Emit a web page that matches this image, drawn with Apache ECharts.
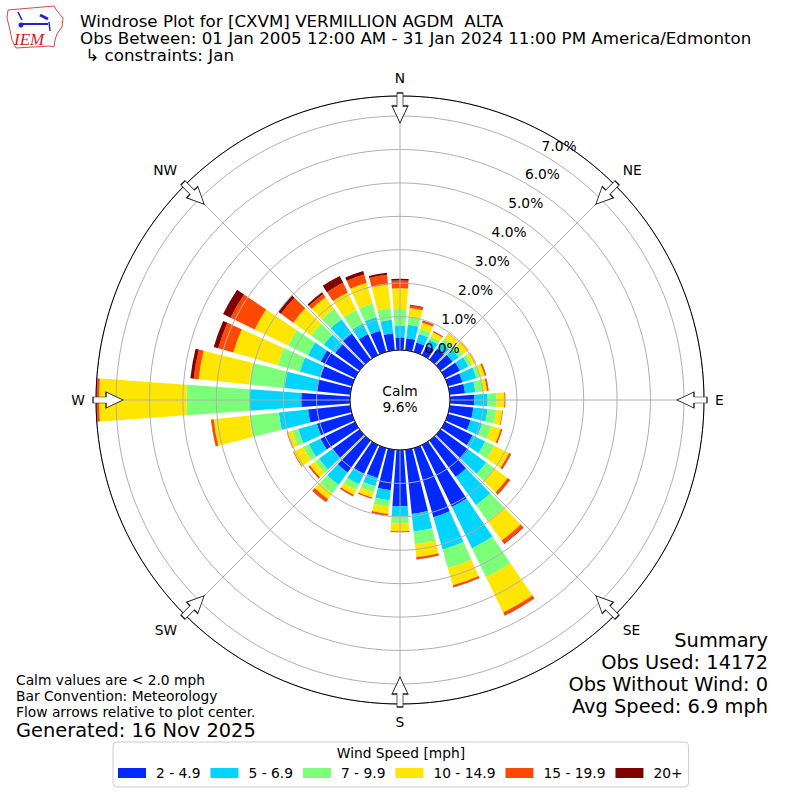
<!DOCTYPE html>
<html>
<head>
<meta charset="utf-8">
<title>Windrose CXVM</title>
<script src="https://cdn.jsdelivr.net/npm/echarts@6.0.0/dist/echarts.min.js"></script>
<style>
html, body { margin: 0; padding: 0; background: #fff; }
#chart { width: 800px; height: 800px; }
</style>
</head>
<body>
<div id="chart"></div>
<script>
// wind directions (degrees the wind blows from), one bar each
const directions = [0, 10, 20, 30, 40, 50, 60, 70, 80, 90, 100, 110,
    120, 130, 140, 150, 160, 170, 180, 190, 200, 210, 220, 230,
    240, 250, 260, 270, 280, 290, 300, 310, 320, 330, 340, 350];

const speedBins = ['2 - 4.9', '5 - 6.9', '7 - 9.9', '10 - 14.9', '15 - 19.9', '20+'];
const binColors = ['#0028ff', '#00d4ff', '#7cff79', '#ffe600', '#ff4800', '#800000'];

// frequency [%] per direction for each speed bin
const speed2to5 = [0.38, 0.36, 0.29, 0.32, 0.40, 0.45, 0.50, 0.45, 0.46, 0.73, 0.71, 0.70,
    0.92, 1.03, 1.35, 2.06, 2.15, 1.93, 1.68, 1.22, 0.93, 0.96, 1.18, 1.00,
    1.15, 1.09, 1.27, 1.46, 1.02, 0.98, 1.14, 0.90, 0.96, 0.70, 0.66, 0.51];
const speed5to7 = [0.35, 0.41, 0.27, 0.20, 0.22, 0.23, 0.28, 0.43, 0.31, 0.40, 0.43, 0.36,
    0.42, 0.66, 1.04, 1.38, 1.01, 0.53, 0.30, 0.30, 0.26, 0.35, 0.46, 0.50,
    0.39, 0.58, 0.88, 1.54, 0.96, 0.64, 0.43, 0.42, 0.53, 0.35, 0.43, 0.41];
const speed7to10 = [0.50, 0.25, 0.16, 0.10, 0.16, 0.16, 0.12, 0.12, 0.23, 0.27, 0.26, 0.29,
    0.30, 0.31, 0.59, 0.96, 0.58, 0.38, 0.22, 0.19, 0.18, 0.19, 0.32, 0.14,
    0.19, 0.19, 0.89, 1.89, 1.06, 0.69, 0.66, 0.47, 0.38, 0.45, 0.42, 0.35];
const speed10to15 = [0.62, 0.25, 0.19, 0.14, 0.18, 0.19, 0.13, 0.14, 0.12, 0.23, 0.18, 0.29,
    0.49, 0.48, 0.71, 1.17, 0.53, 0.39, 0.23, 0.22, 0.17, 0.16, 0.21, 0.19,
    0.31, 0.15, 1.07, 2.62, 1.52, 1.38, 1.11, 0.66, 0.43, 0.58, 0.64, 0.71];
const speed15to20 = [0.23, 0.08, 0.06, 0.03, 0.01, 0.01, 0.01, 0.04, 0.04, 0.03, 0.02, 0.05,
    0.06, 0.09, 0.11, 0.10, 0.06, 0.06, 0.03, 0.04, 0.04, 0.04, 0.10, 0.05,
    0.02, 0.02, 0.07, 0.07, 0.15, 0.47, 0.80, 0.45, 0.12, 0.32, 0.26, 0.29];
const speed20up = [0.05, 0.02, 0.01, 0.01, 0, 0, 0, 0.01, 0.01, 0, 0, 0,
    0.01, 0.01, 0.02, 0.01, 0.01, 0.01, 0, 0.01, 0, 0.01, 0.01, 0.01,
    0, 0, 0.01, 0.02, 0.10, 0.14, 0.25, 0.11, 0.06, 0.23, 0.11, 0.06];
const binValues = [speed2to5, speed5to7, speed7to10, speed10to15, speed15to20, speed20up];

const compassLabels = ['N', 'NE', 'E', 'SE', 'S', 'SW', 'W', 'NW'];
const compassAngles = [0, 45, 90, 135, 180, 225, 270, 315];
const radiusMax = 7.6;
const arrowRadius = 7.24;

const FONT = 'DejaVu Sans';
const center = [400, 400];
const plotRadius = [50, 304];

const chart = echarts.init(document.getElementById('chart'), null, { renderer: 'svg' });

function txt(x, y, text, size, align) {
    return {
        type: 'text', silent: true, z: 10,
        style: {
            x: x, y: y, text: text, fill: '#000',
            fontFamily: FONT, fontSize: size, lineHeight: Math.round(size),
            align: align || 'left', verticalAlign: 'middle'
        }
    };
}

const barSeries = speedBins.map((name, i) => ({
    type: 'bar',
    name: name,
    coordinateSystem: 'polar',
    polarIndex: 0,
    stack: 'wind',
    data: binValues[i],
    barCategoryGap: '18%',
    itemStyle: { color: binColors[i] },
    silent: true,
    z: 2
}));

const hiddenAxis = {
    axisLine: { show: false },
    axisTick: { show: false },
    axisLabel: { show: false },
    splitLine: { show: false }
};

option = {
    animation: false,
    backgroundColor: '#fff',
    polar: [
        { center: center, radius: plotRadius },
        { center: center, radius: plotRadius },
        { center: center, radius: [plotRadius[0] + 16, plotRadius[1] + 16] }
    ],
    angleAxis: [
        Object.assign({
            polarIndex: 0,
            type: 'category',
            data: directions,
            startAngle: 95,
            clockwise: true
        }, hiddenAxis),
        {
            polarIndex: 1,
            type: 'value',
            min: 0,
            max: 360,
            interval: 45,
            startAngle: 90,
            clockwise: true,
            z: 4,
            axisLine: { show: true, lineStyle: { color: '#000', width: 1 } },
            axisTick: { show: false },
            axisLabel: {
                margin: 11,
                color: '#000',
                fontFamily: FONT,
                fontSize: 13.8,
                formatter: v => (v >= 360 ? '' : compassLabels[compassAngles.indexOf(v)])
            },
            splitLine: { show: true, lineStyle: { color: '#b0b0b0', width: 1 } }
        },
        Object.assign({
            polarIndex: 2,
            type: 'value',
            min: 0,
            max: 360,
            startAngle: 60,
            clockwise: true
        }, hiddenAxis)
    ],
    radiusAxis: [
        Object.assign({ polarIndex: 0, type: 'value', min: 0, max: radiusMax }, hiddenAxis),
        {
            polarIndex: 1,
            type: 'value',
            min: 0,
            max: radiusMax,
            interval: 1,
            z: 4,
            axisLine: { show: false },
            axisTick: { show: false },
            axisLabel: { show: false },
            splitLine: { show: true, lineStyle: { color: '#b0b0b0', width: 1 } }
        },
        {
            polarIndex: 2,
            type: 'value',
            min: 0,
            max: radiusMax,
            interval: 1,
            z: 5,
            axisLine: { show: false },
            axisTick: { show: false },
            splitLine: { show: false },
            axisLabel: {
                margin: -10.6,
                align: 'center',
                verticalAlign: 'middle',
                color: '#000',
                fontFamily: FONT,
                fontSize: 13.8,
                formatter: v => (Math.abs(v - Math.round(v)) < 1e-6 && v < radiusMax - 0.05 ? v.toFixed(1) + '%' : '')
            }
        }
    ],
    legend: {
        data: speedBins,
        left: 113,
        top: 742,
        padding: [24, 6, 7, 5],
        itemWidth: 28,
        itemHeight: 10,
        itemGap: 10,
        icon: 'rect',
        borderColor: '#cccccc',
        borderWidth: 1,
        borderRadius: 4,
        selectedMode: false,
        textStyle: { fontFamily: FONT, fontSize: 13.8, color: '#000', padding: [0, 0, 0, 5] }
    },
    series: barSeries.concat([{
        type: 'scatter',
        coordinateSystem: 'polar',
        polarIndex: 1,
        // open compass arrow pointing to the centre
        symbol: 'path://M5,0 L11,0 L11,13 L16,13 L8,30 L0,13 L5,13 Z',
        symbolSize: [16, 30],
        itemStyle: { color: '#fff', borderColor: '#222', borderWidth: 1, opacity: 1 },
        data: compassAngles.map(a => ({ value: [arrowRadius, a], symbolRotate: -a })),
        silent: true,
        z: 6
    }]),
    graphic: [
        // IEM logo
        {
            type: 'polygon', silent: true,
            shape: { points: [[8, 10], [54, 6], [57, 11], [63, 18], [62, 27], [57, 34], [55, 40], [54, 47], [50, 46], [16, 48], [12, 40], [10, 30], [7, 18]] },
            style: { fill: 'none', stroke: '#d84848', lineWidth: 1 }
        },
        { type: 'line', silent: true, shape: { x1: 20, y1: 24, x2: 48, y2: 24 }, style: { stroke: '#2222cc', lineWidth: 2 } },
        { type: 'line', silent: true, shape: { x1: 18, y1: 12, x2: 22, y2: 20 }, style: { stroke: '#2222cc', lineWidth: 1.5 } },
        { type: 'line', silent: true, shape: { x1: 40, y1: 15, x2: 48, y2: 19 }, style: { stroke: '#2222cc', lineWidth: 3 } },
        { type: 'line', silent: true, shape: { x1: 49, y1: 22, x2: 50, y2: 31 }, style: { stroke: '#2222cc', lineWidth: 1.5 } },
        { type: 'circle', silent: true, shape: { cx: 21, cy: 25, r: 2.5 }, style: { fill: '#2222cc' } },
        {
            type: 'text', silent: true,
            style: { x: 14, y: 39, text: 'IEM', fill: '#d02020', fontFamily: 'Liberation Serif', fontStyle: 'italic', fontSize: 17, verticalAlign: 'middle' }
        },
        // title block (three lines)
        {
            type: 'text', silent: true, z: 10,
            style: {
                x: 80, y: 12.5,
                text: 'Windrose Plot for [CXVM] VERMILLION AGDM  ALTA\n' +
                    'Obs Between: 01 Jan 2005 12:00 AM - 31 Jan 2024 11:00 PM America/Edmonton\n' +
                    ' \u21b3 constraints: Jan',
                fill: '#000', fontFamily: FONT, fontSize: 16.7, lineHeight: 17,
                align: 'left', verticalAlign: 'top'
            }
        },
        // calm
        txt(400, 391, 'Calm', 13.8, 'center'),
        txt(400, 407, '9.6%', 13.8, 'center'),
        // notes
        txt(16, 680, 'Calm values are < 2.0 mph', 13.8),
        txt(16, 696, 'Bar Convention: Meteorology', 13.8),
        txt(16, 712, 'Flow arrows relative to plot center.', 13.8),
        txt(16, 730, 'Generated: 16 Nov 2025', 19.4),
        // summary
        txt(768, 640, 'Summary', 19.4, 'right'),
        txt(768, 662, 'Obs Used: 14172', 19.4, 'right'),
        txt(768, 684, 'Obs Without Wind: 0', 19.4, 'right'),
        txt(768, 706, 'Avg Speed: 6.9 mph', 19.4, 'right'),
        // legend title
        txt(401, 753, 'Wind Speed [mph]', 13.8, 'center')
    ]
};

chart.setOption(option);
</script>
</body>
</html>
